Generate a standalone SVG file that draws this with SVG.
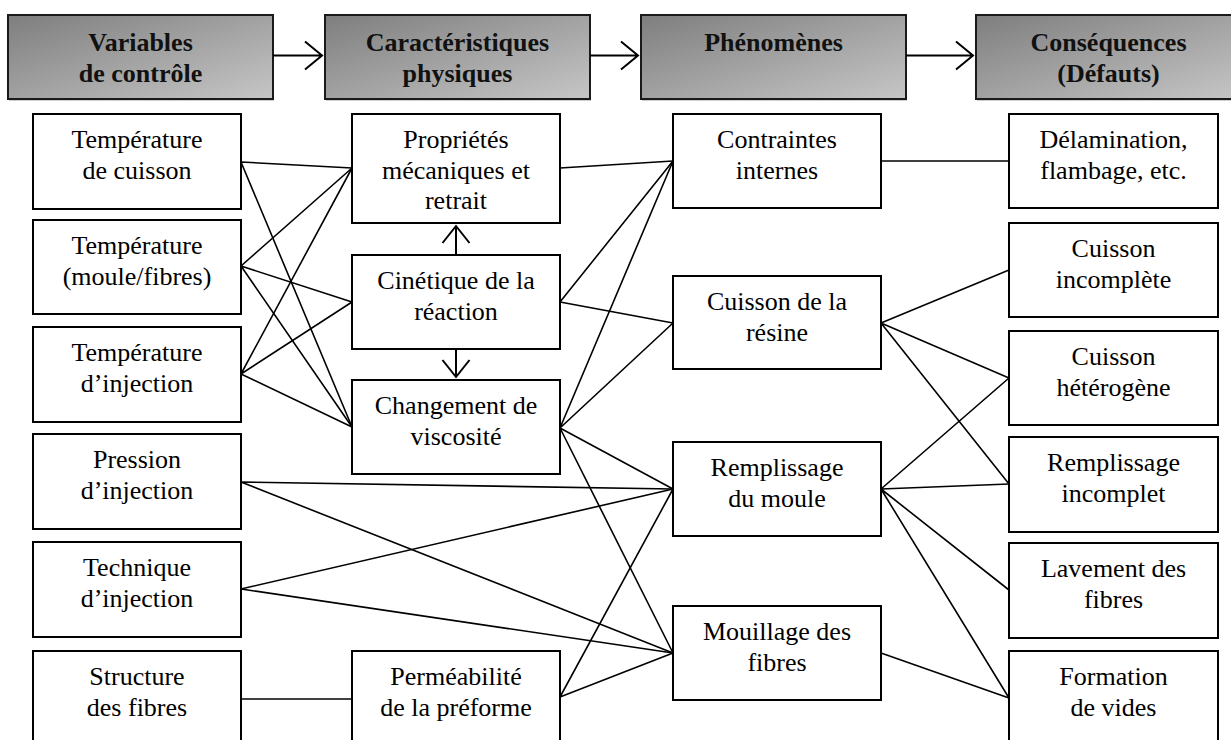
<svg xmlns="http://www.w3.org/2000/svg" width="1231" height="740" viewBox="0 0 1231 740">
<defs>
<linearGradient id="hg" x1="0" y1="0" x2="1" y2="1">
<stop offset="0" stop-color="#7e7e7e"/>
<stop offset="1" stop-color="#c6c6c6"/>
</linearGradient>
<style>
.hdr{fill:url(#hg);stroke:#1a1a1a;stroke-width:2}
.shd{fill:#cfcfcf}
.box{fill:#fff;stroke:#000;stroke-width:2}
.ht{font-size:26px;font-weight:bold;fill:#111;text-anchor:middle}
.bt{font-size:26px;fill:#000;text-anchor:middle}
.ln{stroke:#000;stroke-width:1.6;fill:none}
.ar{stroke:#000;stroke-width:2;fill:none}
</style>
</defs>
<rect width="1231" height="740" fill="#fff"/>

<g font-family="Times New Roman">
<g id="header1"><rect class="shd" x="9" y="17" width="265" height="84"/><rect class="hdr" x="8" y="15" width="265" height="84"/><text class="ht" x="140.5" y="51">Variables</text><text class="ht" x="140.5" y="82">de contrôle</text></g>
<g id="header2"><rect class="shd" x="326" y="17" width="265" height="84"/><rect class="hdr" x="325" y="15" width="265" height="84"/><text class="ht" x="457.5" y="51">Caractéristiques</text><text class="ht" x="457.5" y="82">physiques</text></g>
<g id="header3"><rect class="shd" x="642" y="17" width="265" height="84"/><rect class="hdr" x="641" y="15" width="265" height="84"/><text class="ht" x="773.5" y="51">Phénomènes</text></g>
<g id="header4"><rect class="shd" x="977" y="17" width="265" height="84"/><rect class="hdr" x="976" y="15" width="265" height="84"/><text class="ht" x="1108.5" y="51">Conséquences</text><text class="ht" x="1108.5" y="82">(Défauts)</text></g>
</g>

<g id="connectors">
<path class="ar" d="M273 55.5H322M305 41.5L322 55.5L305 69.5"/>
<path class="ar" d="M590 55.5H638M621 41.5L638 55.5L621 69.5"/>
<path class="ar" d="M906 55.5H973M956 41.5L973 55.5L956 69.5"/>
<path class="ar" d="M456 255V226M442.5 243L456 226L469.5 243"/>
<path class="ar" d="M456 349V377M442.5 360L456 377L469.5 360"/>
<path class="ln" d="M241 162L352 168M241 162L352 427"/>
<path class="ln" d="M241 266L352 168M241 266L352 302M241 266L352 427"/>
<path class="ln" d="M241 374L352 168M241 374L352 302M241 374L352 427"/>
<path class="ln" d="M241 482L673 489M241 482L673 653"/>
<path class="ln" d="M241 589L673 489M241 589L673 653"/>
<path class="ln" d="M241 699L352 699"/>
<path class="ln" d="M560 168L673 161"/>
<path class="ln" d="M560 302L673 161M560 302L673 323"/>
<path class="ln" d="M560 428L673 161M560 428L673 323M560 428L673 489M560 428L673 653"/>
<path class="ln" d="M560 697L673 489M560 697L673 653"/>
<path class="ln" d="M881 161L1009 161"/>
<path class="ln" d="M881 323L1009 270M881 323L1009 378M881 323L1009 484"/>
<path class="ln" d="M881 489L1009 378M881 489L1009 484M881 489L1009 590M881 489L1009 698"/>
<path class="ln" d="M881 653L1009 698"/>
</g>

<g font-family="Times New Roman">
<g id="n1"><rect class="box" x="33" y="114" width="208" height="95"/><text class="bt" x="137" y="148">Température</text><text class="bt" x="137" y="179">de cuisson</text></g>
<g id="n2"><rect class="box" x="33" y="220" width="208" height="94"/><text class="bt" x="137" y="254">Température</text><text class="bt" x="137" y="285">(moule/fibres)</text></g>
<g id="n3"><rect class="box" x="33" y="327" width="208" height="95"/><text class="bt" x="137" y="361">Température</text><text class="bt" x="137" y="392">d’injection</text></g>
<g id="n4"><rect class="box" x="33" y="434" width="208" height="95"/><text class="bt" x="137" y="468">Pression</text><text class="bt" x="137" y="499">d’injection</text></g>
<g id="n5"><rect class="box" x="33" y="542" width="208" height="95"/><text class="bt" x="137" y="576">Technique</text><text class="bt" x="137" y="607">d’injection</text></g>
<g id="n6"><rect class="box" x="33" y="651" width="208" height="100"/><text class="bt" x="137" y="685">Structure</text><text class="bt" x="137" y="716">des fibres</text></g>

<g id="c1"><rect class="box" x="352" y="114" width="208" height="109"/><text class="bt" x="456" y="148">Propriétés</text><text class="bt" x="456" y="179">mécaniques et</text><text class="bt" x="456" y="209">retrait</text></g>
<g id="c2"><rect class="box" x="352" y="255" width="208" height="94"/><text class="bt" x="456" y="289">Cinétique de la</text><text class="bt" x="456" y="320">réaction</text></g>
<g id="c3"><rect class="box" x="352" y="380" width="208" height="94"/><text class="bt" x="456" y="414">Changement de</text><text class="bt" x="456" y="445">viscosité</text></g>
<g id="c4"><rect class="box" x="352" y="651" width="208" height="100"/><text class="bt" x="456" y="685">Perméabilité</text><text class="bt" x="456" y="716">de la préforme</text></g>

<g id="p1"><rect class="box" x="673" y="114" width="208" height="94"/><text class="bt" x="777" y="148">Contraintes</text><text class="bt" x="777" y="179">internes</text></g>
<g id="p2"><rect class="box" x="673" y="276" width="208" height="93"/><text class="bt" x="777" y="310">Cuisson de la</text><text class="bt" x="777" y="341">résine</text></g>
<g id="p3"><rect class="box" x="673" y="442" width="208" height="94"/><text class="bt" x="777" y="476">Remplissage</text><text class="bt" x="777" y="507">du moule</text></g>
<g id="p4"><rect class="box" x="673" y="606" width="208" height="94"/><text class="bt" x="777" y="640">Mouillage des</text><text class="bt" x="777" y="671">fibres</text></g>

<g id="d1"><rect class="box" x="1009" y="114" width="209" height="94"/><text class="bt" x="1113.5" y="148">Délamination,</text><text class="bt" x="1113.5" y="179">flambage, etc.</text></g>
<g id="d2"><rect class="box" x="1009" y="223" width="209" height="94"/><text class="bt" x="1113.5" y="257">Cuisson</text><text class="bt" x="1113.5" y="288">incomplète</text></g>
<g id="d3"><rect class="box" x="1009" y="331" width="209" height="94"/><text class="bt" x="1113.5" y="365">Cuisson</text><text class="bt" x="1113.5" y="396">hétérogène</text></g>
<g id="d4"><rect class="box" x="1009" y="437" width="209" height="95"/><text class="bt" x="1113.5" y="471">Remplissage</text><text class="bt" x="1113.5" y="502">incomplet</text></g>
<g id="d5"><rect class="box" x="1009" y="543" width="209" height="95"/><text class="bt" x="1113.5" y="577">Lavement des</text><text class="bt" x="1113.5" y="608">fibres</text></g>
<g id="d6"><rect class="box" x="1009" y="651" width="209" height="100"/><text class="bt" x="1113.5" y="685">Formation</text><text class="bt" x="1113.5" y="716">de vides</text></g>
</g>
</svg>
